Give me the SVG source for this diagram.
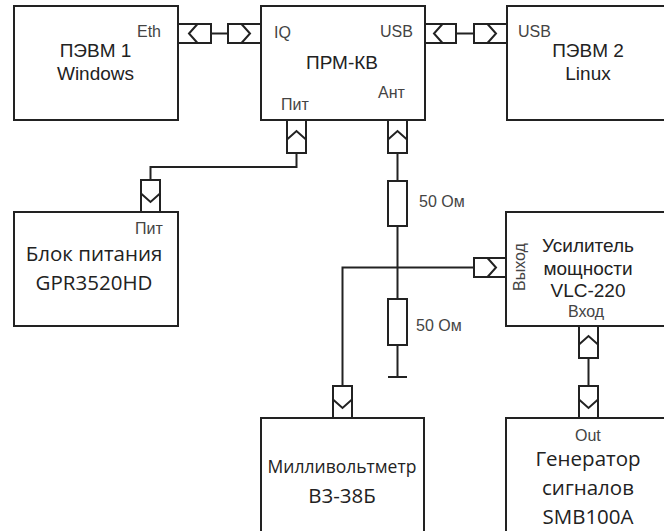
<svg xmlns="http://www.w3.org/2000/svg" width="664" height="531" viewBox="0 0 664 531">
<defs>
<style>
.b{fill:#fff;stroke:#222;stroke-width:2}
.l{fill:none;stroke:#222;stroke-width:2}
text{fill:#222;font-family:"Liberation Sans",Arial,sans-serif}
.s{font-size:16px;fill:#444}
.m{font-size:19px;text-anchor:middle}
.o{font-family:"Open Sans","Noto Sans",sans-serif;font-size:20.5px;text-anchor:middle}
</style>
<g id="pr"><path class="b" d="M0 -9.5H33V9.5H0Z"/><path class="l" d="M13.5 -9.5L22 0L13.5 9.5"/></g>
</defs>
<rect width="664" height="531" fill="#fff"/>
<g id="connectors">
<path class="l" d="M211 33.500H228M456 33.500H474M296.500 153V167H150.500V180M397.500 153V181M397.500 226V299M397.500 345V377M388 377H407M342.500 386V267.500H474M588.500 358V386"/>
<rect class="b" x="388" y="181" width="19" height="45"/>
<rect class="b" x="388" y="299" width="19" height="46"/>
</g>
<g id="port-a"><use href="#pr" transform="translate(211 33.500) rotate(180)"/></g>
<g id="port-b"><use href="#pr" transform="translate(228 33.500)"/></g>
<g id="port-c"><use href="#pr" transform="translate(456 33.500) rotate(180)"/></g>
<g id="port-d"><use href="#pr" transform="translate(474 33.500)"/></g>
<g id="port-e"><use href="#pr" transform="translate(296.500 153) rotate(-90)"/></g>
<g id="port-f"><use href="#pr" transform="translate(397.500 153) rotate(-90)"/></g>
<g id="port-g"><use href="#pr" transform="translate(150.500 180) rotate(90)"/></g>
<g id="port-h"><use href="#pr" transform="translate(474 267.500)"/></g>
<g id="port-i"><use href="#pr" transform="translate(342.500 386) rotate(90)"/></g>
<g id="port-j"><use href="#pr" transform="translate(588.500 358) rotate(-90)"/></g>
<g id="port-k"><use href="#pr" transform="translate(588.500 386) rotate(90)"/></g>
<g id="pevm1"><rect class="b" x="14" y="6" width="164" height="114"/>
<text class="s" x="137" y="37">Eth</text><text class="m" x="95.500" y="57">ПЭВМ 1</text><text class="m" x="95.500" y="80">Windows</text></g>
<g id="prm"><rect class="b" x="261" y="6" width="164" height="114"/>
<text class="s" x="274" y="38">IQ</text><text class="s" x="380" y="37">USB</text><text class="m" x="342" y="69">ПРМ-КВ</text><text class="s" x="378" y="98">Ант</text><text class="s" x="281" y="110">Пит</text></g>
<g id="pevm2"><rect class="b" x="507" y="6" width="170" height="114"/>
<text class="s" x="518" y="37">USB</text><text class="m" x="588" y="57">ПЭВМ 2</text><text class="m" x="588" y="80">Linux</text></g>
<g id="psu"><rect class="b" x="14" y="212" width="164" height="114"/>
<text class="s" x="135" y="234">Пит</text><text class="o" x="94" y="261">Блок питания</text><text class="o" x="94" y="290">GPR3520HD</text></g>
<g id="amp"><rect class="b" x="506" y="212" width="170" height="114"/>
<text class="s" transform="translate(525 291) rotate(-90)">Выход</text>
<text class="m" x="588" y="252">Усилитель</text><text class="m" x="588" y="275">мощности</text><text class="m" x="588" y="297">VLC-220</text><text class="s" x="568" y="317">Вход</text></g>
<g id="mv"><rect class="b" x="261" y="418" width="163" height="120"/>
<text x="342" y="473" text-anchor="middle" style="font-family:'Open Sans',sans-serif;font-size:17.500px">Милливольтметр</text><text class="o" x="342" y="503">В3-38Б</text></g>
<g id="gen"><rect class="b" x="506" y="418" width="170" height="120"/>
<text class="s" x="575" y="441">Out</text><text class="o" x="588" y="466">Генератор</text><text class="o" x="588" y="495">сигналов</text><text class="o" x="588" y="524">SMB100A</text></g>
<text class="s" x="419" y="207">50 Ом</text>
<text class="s" x="416" y="331">50 Ом</text>
</svg>
